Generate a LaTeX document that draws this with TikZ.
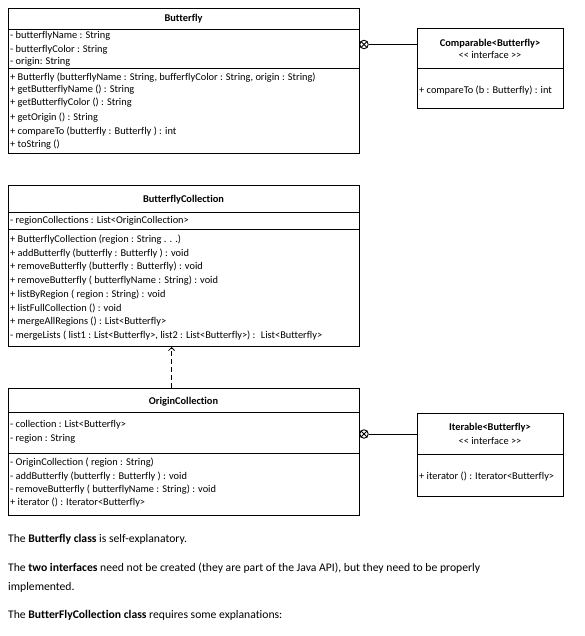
\documentclass[tikz,border=0pt]{standalone}
\usepackage{fontspec}
\setmainfont{Carlito}[Ligatures={TeX,NoCommon}]
\usetikzlibrary{arrows.meta}
\begin{document}
\begin{tikzpicture}[x=1bp,y=-1bp,
  box/.style={draw, line width=1bp, inner sep=0, anchor=north west},
  txt/.style={anchor=west, inner sep=0, text height=9bp, text depth=2bp, font=\fontsize{10.4}{12}\selectfont},
  ttl/.style={inner sep=0, text height=9bp, text depth=2bp, font=\fontsize{10.4}{12}\selectfont\bfseries},
  ifc/.style={inner sep=0, text height=9bp, text depth=2bp, font=\fontsize{10.4}{12}\selectfont},
  div/.style={line width=0.8bp},
  cx/.style={circle, draw, line width=0.9bp, minimum size=8.5bp, inner sep=0},
  link/.style={line width=0.8bp},
  body/.style={anchor=west, inner sep=0, text height=8.5bp, text depth=3bp, font=\fontsize{11.7}{14}\selectfont}]
\useasboundingbox[fill=white] (0,0) rectangle (585,636);

% ---------- Butterfly ----------
\node[box, minimum width=351bp, minimum height=145bp] (bf) at (8,8) {};
\draw[div] (8,29) -- (359,29);
\draw[div] (8,68) -- (359,68);
\node[ttl] (bft) at (183.5,18.5) {Butterfly};
\node[txt] (bfa1) at (10,35) {- butterflyName : String};
\node[txt] (bfa2) at (10,49) {- butterflyColor : String};
\node[txt] (bfa3) at (10,61) {- origin: String};
\node[txt] (bfm1) at (10,77) {+ Butterfly (butterflyName : String, bufferflyColor : String, origin : String)};
\node[txt] (bfm2) at (10,89) {+ getButterflyName () : String};
\node[txt] (bfm3) at (10,102) {+ getButterflyColor () : String};
\node[txt] (bfm4) at (10,117) {+ getOrigin () : String};
\node[txt] (bfm5) at (10,131) {+ compareTo (butterfly : Butterfly ) : int};
\node[txt] (bfm6) at (10,144) {+ toString ()};

% ---------- Comparable ----------
\node[box, minimum width=146bp, minimum height=80bp] (cmp) at (417,28) {};
\draw[div] (417,68) -- (563,68);
\node[ttl] (cmpt) at (490,43) {Comparable<Butterfly>};
\node[ifc] (cmpi) at (490,55.5) {<\kern0pt< interface >\kern0pt>};
\node[txt] (cmpm) at (419,90) {+ compareTo (b : Butterfly) : int};

\node[cx] (c1) at (364,44.5) {};
\draw[link] (c1.north west) -- (c1.south east);
\draw[link] (c1.north east) -- (c1.south west);
\draw[link] (c1.east) -- (c1.east -| cmp.west);

% ---------- ButterflyCollection ----------
\node[box, minimum width=351bp, minimum height=161bp] (bc) at (8,185) {};
\draw[div] (8,212) -- (359,212);
\draw[div] (8,229) -- (359,229);
\node[ttl] (bct) at (183.5,199) {ButterflyCollection};
\node[txt] (bca1) at (10,220) {- regionCollections : List<OriginCollection>};
\node[txt] (bcm1) at (10,239) {+ ButterflyCollection (region : String . . .)};
\node[txt] (bcm2) at (10,253) {+ addButterfly (butterfly : Butterfly ) : void};
\node[txt] (bcm3) at (10,266) {+ removeButterfly (butterfly : Butterfly) : void};
\node[txt] (bcm4) at (10,280) {+ removeButterfly ( butterflyName : String) : void};
\node[txt] (bcm5) at (10,294) {+ listByRegion ( region : String) : void};
\node[txt] (bcm6) at (10,308) {+ listFullCollection () : void};
\node[txt] (bcm7) at (10,321) {+ mergeAllRegions () : List<Butterfly>};
\node[txt] (bcm8) at (10,335) {- mergeLists ( list1 : List<Butterfly>, list2 : List<Butterfly>) :~ List<Butterfly>};

% ---------- OriginCollection ----------
\node[box, minimum width=351bp, minimum height=127bp] (oc) at (8,388) {};
\draw[div] (8,412) -- (359,412);
\draw[div] (8,453) -- (359,453);
\node[ttl] (oct) at (183.5,401) {OriginCollection};
\node[txt] (oca1) at (10,424) {- collection : List<Butterfly>};
\node[txt] (oca2) at (10,438) {- region : String};
\node[txt] (ocm1) at (10,462) {- OriginCollection ( region : String)};
\node[txt] (ocm2) at (10,476) {- addButterfly (butterfly : Butterfly ) : void};
\node[txt] (ocm3) at (10,489) {- removeButterfly ( butterflyName : String) : void};
\node[txt] (ocm4) at (10,502) {+ iterator () : Iterator<Butterfly>};

% dependency arrow
\coordinate (a1) at ([xshift=-12.5bp]oc.north);
\coordinate (a2) at ([xshift=-12.5bp]bc.south);
\draw[link, dash pattern=on 5bp off 3bp, -{Straight Barb[length=3bp,width=6bp]}] (a1) -- (a2);

% ---------- Iterable ----------
\node[box, minimum width=146bp, minimum height=83bp] (itr) at (417,413) {};
\draw[div] (417,454) -- (563,454);
\node[ttl] (itrt) at (490,427) {Iterable<Butterfly>};
\node[ifc] (itri) at (490,441) {<\kern0pt< interface >\kern0pt>};
\node[txt] (itrm) at (419,476) {+ iterator () : Iterator<Butterfly>};

\node[cx] (c2) at (364,434) {};
\draw[link] (c2.north west) -- (c2.south east);
\draw[link] (c2.north east) -- (c2.south west);
\draw[link] (c2.east) -- (c2.east -| itr.west);

% ---------- body text ----------
\node[body] (p1) at (8,540) {The \textbf{Butterfly class} is self-explanatory.};
\node[body] (p2) at (8,569) {The \textbf{two interfaces} need not be created (they are part of the Java API), but they need to be properly};
\node[body] (p3) at (8,588) {implemented.};
\node[body] (p4) at (8,616) {The \textbf{ButterFlyCollection class} requires some explanations:};
\end{tikzpicture}
\end{document}
